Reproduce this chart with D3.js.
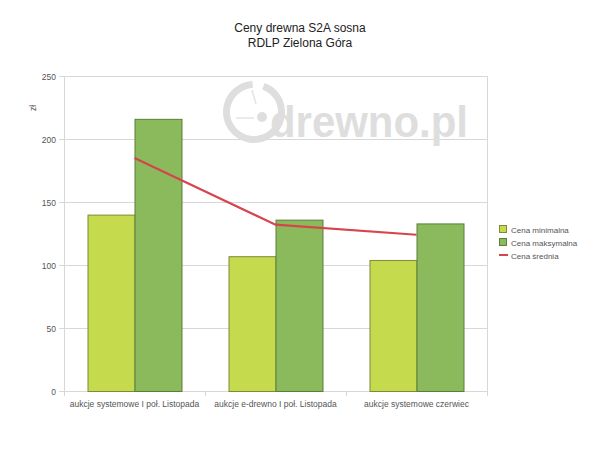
<!DOCTYPE html>
<html><head><meta charset="utf-8">
<script src="https://cdn.jsdelivr.net/npm/d3@7"></script>
<style>body{margin:0;background:#fff;font-family:"Liberation Sans",Arial,sans-serif}</style>
</head><body><svg id="c" width="600" height="450"></svg>
<script>
const categories = ["aukcje systemowe I poł. Listopada", "aukcje e-drewno I poł. Listopada", "aukcje systemowe czerwiec"];
const minValues = [140, 107, 104];
const maxValues = [216, 136, 133];
const avgValues = [185, 132, 124];
const yTicks = [0, 50, 100, 150, 200, 250];
const seriesNames = ["Cena minimalna", "Cena maksymalna", "Cena średnia"];

const svg = d3.select("#c");
const L = 64, R = 487, T = 76, B = 391;
const x = d3.scaleBand().domain(categories).range([L, R]).paddingInner(1/3).paddingOuter(1/6);
const y = d3.scaleLinear().domain([0, 250]).range([B, T]);

// title
svg.append("text").attr("x", 300).attr("y", 32).attr("text-anchor", "middle").attr("font-size", 12).attr("fill", "#222").text("Ceny drewna S2A sosna");
svg.append("text").attr("x", 300).attr("y", 47).attr("text-anchor", "middle").attr("font-size", 12).attr("fill", "#222").text("RDLP Zielona Góra");

// grid
svg.append("g").selectAll("line").data(yTicks).join("line")
  .attr("x1", L - 5).attr("x2", R).attr("y1", d => y(d) + 0.5).attr("y2", d => y(d) + 0.5)
  .attr("stroke", "#d8d8d8");
svg.append("line").attr("x1", R + 0.5).attr("x2", R + 0.5).attr("y1", T).attr("y2", B).attr("stroke", "#d8d8d8");
svg.append("line").attr("x1", L + 0.5).attr("x2", L + 0.5).attr("y1", T).attr("y2", B + 5).attr("stroke", "#d8d8d8");
const step = (R - L) / categories.length;
svg.append("g").selectAll("line").data(d3.range(categories.length + 1)).join("line")
  .attr("x1", i => L + i * step + 0.5).attr("x2", i => L + i * step + 0.5)
  .attr("y1", B).attr("y2", B + 5).attr("stroke", "#d8d8d8");

// watermark
const wm = svg.append("g");
wm.append("path").attr("d", d3.arc()({innerRadius: 24, outerRadius: 31, startAngle: 0.35, endAngle: 2 * Math.PI - 0.05}))
  .attr("transform", "translate(254,112)").attr("fill", "#dedede");
wm.append("line").attr("x1", 236).attr("x2", 254).attr("y1", 118).attr("y2", 118).attr("stroke", "#e4e4e4").attr("stroke-width", 1.5);
wm.append("line").attr("x1", 252).attr("x2", 256).attr("y1", 90).attr("y2", 104).attr("stroke", "#e4e4e4").attr("stroke-width", 1.5);
wm.append("circle").attr("cx", 262).attr("cy", 117).attr("r", 5).attr("fill", "#dedede");
wm.append("text").attr("x", 270).attr("y", 137).attr("font-size", 44).attr("font-weight", "bold")
  .attr("font-family", "'Liberation Sans',sans-serif")
  .attr("fill", "#dedede").attr("textLength", 198).attr("lengthAdjust", "spacingAndGlyphs").text("drewno.pl");

// y-axis labels
svg.append("g").selectAll("text").data(yTicks).join("text")
  .attr("x", L - 8).attr("y", d => y(d) + 3.5).attr("text-anchor", "end")
  .attr("font-size", 8.5).attr("fill", "#555").text(d => d);
svg.append("text").attr("transform", "translate(36,108) rotate(-90)").attr("text-anchor", "middle")
  .attr("font-size", 8.5).attr("fill", "#555").text("zł");

// bars
const bw = x.bandwidth() / 2;
svg.append("g").selectAll("rect").data(minValues).join("rect")
  .attr("x", (d, i) => x(categories[i]) + 0.5).attr("y", d => y(d) + 0.5)
  .attr("width", bw).attr("height", d => B - y(d))
  .attr("fill", "#c5da4c").attr("stroke", "#7d8a3c").attr("stroke-width", 1);
svg.append("g").selectAll("rect").data(maxValues).join("rect")
  .attr("x", (d, i) => x(categories[i]) + bw + 0.5).attr("y", d => y(d) + 0.5)
  .attr("width", bw).attr("height", d => B - y(d))
  .attr("fill", "#8aba5c").attr("stroke", "#5b7f3b").attr("stroke-width", 1);

// line
const line = d3.line().x((d, i) => x(categories[i]) + x.bandwidth() / 2).y(d => y(d));
svg.append("path").datum(avgValues).attr("d", line).attr("fill", "none")
  .attr("stroke", "#d6454e").attr("stroke-width", 2.2);

// x labels
svg.append("g").selectAll("text").data(categories).join("text")
  .attr("x", d => x(d) + x.bandwidth() / 2).attr("y", 407).attr("text-anchor", "middle")
  .attr("font-size", 8.5).attr("fill", "#555").text(d => d);

// legend
const lg = svg.append("g").attr("transform", "translate(499,225)");
const colors = [["#c5da4c", "#7d8a3c"], ["#8aba5c", "#5b7f3b"]];
colors.forEach((c, i) => {
  lg.append("rect").attr("x", 0.5).attr("y", i * 13 + 0.5).attr("width", 7).attr("height", 7).attr("fill", c[0]).attr("stroke", c[1]);
});
lg.append("line").attr("x1", 0).attr("x2", 9).attr("y1", 30).attr("y2", 30).attr("stroke", "#d6454e").attr("stroke-width", 2);
lg.selectAll("text").data(seriesNames).join("text")
  .attr("x", 12).attr("y", (d, i) => i * 13 + 7.5).attr("font-size", 8).attr("fill", "#555").text(d => d);
</script></body></html>
